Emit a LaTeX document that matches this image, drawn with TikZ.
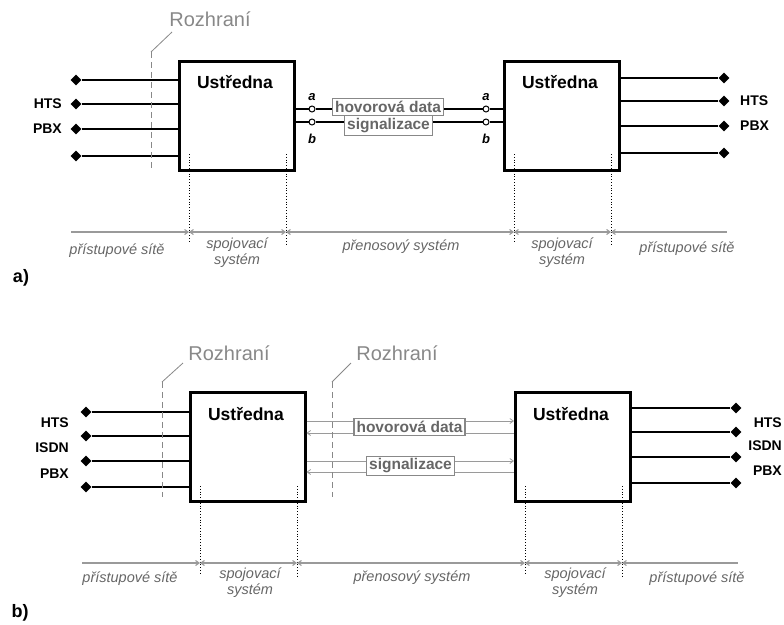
\documentclass[tikz,border=0pt]{standalone}
\usepackage{fontspec}
\setmainfont{Liberation Sans}
\usetikzlibrary{shapes.geometric,arrows.meta,positioning,calc}

\definecolor{popis}{HTML}{666666}
\definecolor{svetla}{HTML}{888888}
\definecolor{cara}{HTML}{9A9A9A}

\tikzset{
  ustredna/.style={draw, line width=3pt, minimum width=115pt, minimum height=109pt, inner sep=0pt},
  nadpis/.style={font=\bfseries\fontsize{17.5}{18}\selectfont, inner sep=0pt},
  koncovka/.style={diamond, fill=black, inner sep=0pt, minimum size=11pt},
  vedeni/.style={line width=1.4pt},
  sluzba/.style={font=\bfseries\fontsize{14}{14}\selectfont, inner sep=0pt},
  svorka/.style={circle, draw, line width=1pt, fill=white, inner sep=0pt, minimum size=6pt},
  svorkatext/.style={font=\bfseries\itshape\fontsize{13}{13}\selectfont, inner sep=0pt},
  kanal/.style={draw=svetla, line width=1.1pt, fill=white, text=popis, inner sep=2.5pt,
    minimum height=16pt, font=\bfseries\fontsize{15.5}{16}\selectfont},
  rozhrani/.style={svetla, line width=1pt, dash pattern=on 6pt off 4pt},
  rozhranitext/.style={text=svetla, font=\fontsize{20}{20}\selectfont, inner sep=0pt},
  hranice/.style={line width=0.8pt, dotted},
  osa/.style={cara, line width=1.1pt},
  usek/.style={text=popis, font=\itshape\fontsize{14.5}{16}\selectfont, align=center, inner sep=0pt},
  obr/.style={font=\bfseries\fontsize{18}{18}\selectfont, inner sep=0pt}
}

\begin{document}
\begin{tikzpicture}[x=1pt, y=-1pt, >={Straight Barb[length=3.5pt,width=5pt]}]
  \useasboundingbox (0,0) rectangle (784,624);

  % ---------- a) ----------
  % exchanges
  \node[ustredna] (A1) at (237,116) {};
  \node[ustredna] (A2) at (562,116) {};
  \node[nadpis] (A1t) at (235,82) {Ustředna};
  \node[nadpis] (A2t) at (560,82) {Ustředna};

  % subscriber lines left
  \foreach \y/\n in {80/1,104/2,129/3,156/4} {
    \node[koncovka] (al\n) at (76,\y) {};
    \draw[vedeni] (al\n) -- (al\n -| A1.west);
  }
  \node[sluzba, anchor=east] (aHTS) at (62,104) {HTS};
  \node[sluzba, anchor=east] (aPBX) at (62,129) {PBX};

  % subscriber lines right
  \foreach \y/\n in {78/1,101/2,126/3,153/4} {
    \node[koncovka] (ar\n) at (724,\y) {};
    \draw[vedeni] (ar\n -| A2.east) -- (ar\n);
  }
  \node[sluzba, anchor=west] (aHTSr) at (740,101) {HTS};
  \node[sluzba, anchor=west] (aPBXr) at (740,126) {PBX};

  % trunk a/b wires
  \node[svorka] (sa1) at (312,109) {};
  \node[svorka] (sb1) at (312,122) {};
  \node[svorka] (sa2) at (486,109) {};
  \node[svorka] (sb2) at (486,122) {};
  \draw[vedeni] (sa1 -| A1.east) -- (sa1) -- (sa2) -- (sa2 -| A2.west);
  \draw[vedeni] (sb1 -| A1.east) -- (sb1) -- (sb2) -- (sb2 -| A2.west);
  \node[svorkatext] at (312,97) {a};
  \node[svorkatext] at (312,139) {b};
  \node[svorkatext] at (486,97) {a};
  \node[svorkatext] at (486,139) {b};
  \node[kanal] (ahov) at (388,107) {hovorová data};
  \node[kanal] (asig) at (388.5,125.5) {signalizace};

  % interface
  \coordinate (ar1h) at (151,52);
  \coordinate (ar1d) at (151,168);
  \node[rozhranitext] (aroz) at (210,19) {Rozhraní};
  \draw[rozhrani] (ar1h) -- (ar1d);
  \draw[svetla, line width=0.8pt] (ar1h) -- (172,32);

  % parts of the network
  \foreach \x/\n/\h in {189/1/242,286/2/245,514/3/242,611/4/245} {
    \coordinate (ah\n) at (\x,232);
    \draw[hranice] (\x,154) -- (\x,\h);
  }
  \coordinate (aosL) at (71,232);
  \coordinate (aosR) at (727,232);
  \draw[osa, ->] (aosL) -- (ah1);
  \draw[osa, <->] (ah1) -- (ah2);
  \draw[osa, <->] (ah2) -- (ah3);
  \draw[osa, <->] (ah3) -- (ah4);
  \draw[osa, <-] (ah4) -- (aosR);
  \node[usek] at (117,251) {přístupové sítě};
  \node[usek] at (237,253) {spojovací\\systém};
  \node[usek] at (401,247) {přenosový systém};
  \node[usek] at (562,253) {spojovací\\systém};
  \node[usek] at (687,249) {přístupové sítě};
  \node[obr] at (21,278) {a)};

  % ---------- b) ----------
  \node[ustredna] (B1) at (247.5,447) {};
  \node[ustredna] (B2) at (573,447) {};
  \node[nadpis] (B1t) at (246,414) {Ustředna};
  \node[nadpis] (B2t) at (571,414) {Ustředna};

  \foreach \y/\n in {412/1,436/2,461/3,487/4} {
    \node[koncovka] (bl\n) at (86,\y) {};
    \draw[vedeni] (bl\n) -- (bl\n -| B1.west);
  }
  \node[sluzba, anchor=east] at (69,423) {HTS};
  \node[sluzba, anchor=east] at (69,448) {ISDN};
  \node[sluzba, anchor=east] at (69,474) {PBX};

  \foreach \y/\n in {408/1,432/2,457/3,483/4} {
    \node[koncovka] (br\n) at (736,\y) {};
    \draw[vedeni] (br\n -| B2.east) -- (br\n);
  }
  \node[sluzba, anchor=east] at (782,423) {HTS};
  \node[sluzba, anchor=east] at (782,446) {ISDN};
  \node[sluzba, anchor=east] at (782,471) {PBX};

  % channels between exchanges
  \foreach \y/\n in {421/1,461/3} {
    \draw[osa, line width=0.8pt, ->] (B1.east |- 0,\y) -- (B2.west |- 0,\y);
  }
  \foreach \y/\n in {433/2,472/4} {
    \draw[osa, line width=0.8pt, ->] (B2.west |- 0,\y) -- (B1.east |- 0,\y);
  }
  \node[kanal] (bhov) at (409.5,427) {hovorová data};
  \node[kanal] (bsig) at (410.5,466) {signalizace};

  % interfaces
  \coordinate (br1h) at (162,382);
  \coordinate (br1d) at (162,497);
  \coordinate (br2h) at (332,382);
  \coordinate (br2d) at (332,497);
  \node[rozhranitext] (broz1) at (229,353) {Rozhraní};
  \node[rozhranitext] (broz2) at (397,353) {Rozhraní};
  \draw[rozhrani] (br1h) -- (br1d);
  \draw[rozhrani] (br2h) -- (br2d);
  \draw[svetla, line width=0.8pt] (br1h) -- (183,363);
  \draw[svetla, line width=0.8pt] (br2h) -- (351,363);

  \foreach \x/\n/\h in {200/1/573,297/2/577,525/3/573,622/4/577} {
    \coordinate (bh\n) at (\x,563);
    \draw[hranice] (\x,486) -- (\x,\h);
  }
  \coordinate (bosL) at (82,563);
  \coordinate (bosR) at (738,563);
  \draw[osa, ->] (bosL) -- (bh1);
  \draw[osa, <->] (bh1) -- (bh2);
  \draw[osa, <->] (bh2) -- (bh3);
  \draw[osa, <->] (bh3) -- (bh4);
  \draw[osa, <-] (bh4) -- (bosR);
  \node[usek] at (130,579) {přístupové sítě};
  \node[usek] at (250,583) {spojovací\\systém};
  \node[usek] at (412,578) {přenosový systém};
  \node[usek] at (575,583) {spojovací\\systém};
  \node[usek] at (697,579) {přístupové sítě};
  \node[obr] at (20,613) {b)};
\end{tikzpicture}
\end{document}
